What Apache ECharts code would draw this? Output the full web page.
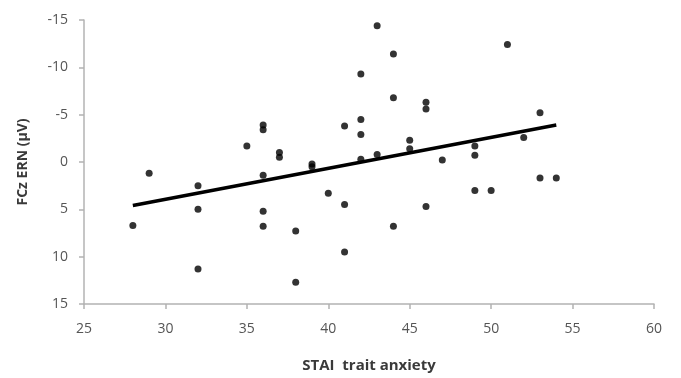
<!DOCTYPE html>
<html>
<head>
<meta charset="utf-8">
<script src="https://cdn.jsdelivr.net/npm/echarts@6/dist/echarts.min.js"></script>
<style>
  html, body { margin: 0; padding: 0; background: #fff; }
  #chart { width: 681px; height: 378px; }
</style>
</head>
<body>
<div id="chart"></div>
<script>
// STAI trait anxiety (x) vs FCz ERN amplitude in µV (y)
const anxiety = [28, 29, 32, 32, 32, 35, 36, 36, 36, 36, 36, 37, 37, 38, 38, 39, 39, 40, 41, 41, 41,
  42, 42, 42, 42, 43, 43, 44, 44, 44, 45, 45, 46, 46, 46, 47, 49, 49, 49, 50, 51, 52, 53, 53, 54];
const ern = [6.7, 1.2, 2.5, 5.0, 11.3, -1.7, -3.9, -3.4, 1.4, 5.2, 6.8, -1.0, -0.5, 7.3, 12.7, 0.2, 0.5, 3.3, -3.8, 4.5, 9.5,
  -9.3, -4.5, -2.9, -0.3, -14.4, -0.8, -11.4, -6.8, 6.8, -2.3, -1.4, -6.3, -5.6, 4.7, -0.2, -1.7, -0.7, 3.0, 3.0, -12.4, -2.6, -5.2, 1.7, 1.7];

// regression line end points
const trendX = [28, 54];
const trendY = [4.6, -3.9];

const xTicks = [25, 30, 35, 40, 45, 50, 55, 60];
const yTicks = [-15, -10, -5, 0, 5, 10, 15];

const textColor = '#555555';
const axisColor = '#b3b3b3';

const chart = echarts.init(document.getElementById('chart'));

const option = {
  animation: false,
  grid: {
    left: 84,
    right: 27,
    top: 20,
    bottom: 73
  },
  xAxis: {
    type: 'value',
    min: xTicks[0],
    max: xTicks[xTicks.length - 1],
    interval: 5,
    name: 'STAI  trait anxiety',
    nameLocation: 'middle',
    nameGap: 54,
    nameTextStyle: {
      color: '#3a3a3a',
      fontFamily: 'Open Sans',
      fontWeight: 'bold',
      fontSize: 15
    },
    axisLine: { onZero: false, lineStyle: { color: axisColor, width: 1.5 } },
    axisTick: { length: 5, lineStyle: { color: axisColor, width: 1.5 } },
    axisLabel: {
      color: textColor,
      fontFamily: 'Open Sans',
      fontSize: 14,
      margin: 18
    },
    splitLine: { show: false }
  },
  yAxis: {
    type: 'value',
    inverse: true,
    min: yTicks[0],
    max: yTicks[yTicks.length - 1],
    interval: 5,
    name: 'FCz ERN (µV)',
    nameLocation: 'middle',
    nameGap: 54,
    nameTextStyle: {
      color: '#3a3a3a',
      fontFamily: 'Open Sans',
      fontWeight: 'bold',
      fontSize: 14
    },
    axisLine: { show: true, onZero: false, lineStyle: { color: axisColor, width: 1.5 } },
    axisTick: { show: true, length: 5, lineStyle: { color: axisColor, width: 1.5 } },
    axisLabel: {
      color: textColor,
      fontFamily: 'Open Sans',
      fontSize: 14,
      margin: 16
    },
    splitLine: { show: false }
  },
  series: [
    {
      type: 'line',
      data: trendX.map((x, i) => [x, trendY[i]]),
      symbol: 'none',
      lineStyle: { color: '#000', width: 3.5 },
      z: 1
    },
    {
      type: 'scatter',
      data: anxiety.map((x, i) => [x, ern[i]]),
      symbol: 'circle',
      symbolSize: 7,
      itemStyle: { color: '#000' },
      z: 2
    }
  ]
};

chart.setOption(option);
</script>
</body>
</html>
